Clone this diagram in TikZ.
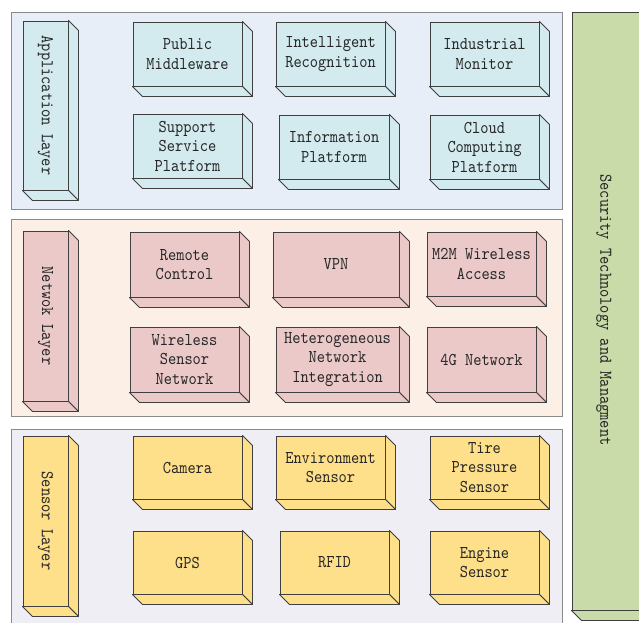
\documentclass[tikz,border=0pt]{standalone}
\usepackage{fontspec}
\setmonofont[FakeStretch=0.87]{lmmono10-regular.otf}
\usepackage{graphicx}
\definecolor{appbg}{HTML}{E8EEF7}
\definecolor{netbg}{HTML}{FCEFE5}
\definecolor{senbg}{HTML}{EFEEF5}
\definecolor{appbox}{HTML}{D3EBEF}
\definecolor{netbox}{HTML}{EBC9C9}
\definecolor{senbox}{HTML}{FFE08A}
\definecolor{secbox}{HTML}{C9DBA8}
\definecolor{edgec}{HTML}{3F3F3F}
\definecolor{txtc}{HTML}{262626}
\definecolor{layeredge}{HTML}{8A8A8A}
\tikzset{
  layerbg/.style={draw=layeredge, line width=0.9pt},
  front/.style={draw=edgec, line width=0.9pt, rectangle, inner sep=0pt, align=center,
    text=txtc, font=\ttfamily\fontsize{18}{19.5}\selectfont},
  face/.style={draw=edgec, line width=0.9pt, line join=round},
}
% \cubebox{name}{x1}{y1}{x2}{y2}{color}{text}
\newcommand{\cubebox}[7]{%
  \node[front, fill=#6, minimum width={(#4-#2)*1pt}, minimum height={(#5-#3)*1pt}]
     (#1) at ({(#2+#4)/2},{(#3+#5)/2}) {#7};
  \draw[face, fill=#6] (#1.north east) -- ++(10,10) -- ([shift={(10,10)}]#1.south east) -- (#1.south east) -- cycle;
  \draw[face, fill=#6] (#1.south west) -- ++(10,10) -- ([shift={(10,10)}]#1.south east) -- (#1.south east) -- cycle;
}
\begin{document}
\begin{tikzpicture}[x=1pt, y=-1pt]
\useasboundingbox (0,0) rectangle (639,622);
\clip (0,0) rectangle (639,622);
\fill[white] (0,0) rectangle (639,622);
% layer backgrounds
\draw[layerbg, fill=appbg] (11,12) rectangle (562,209);
\draw[layerbg, fill=netbg] (11,219) rectangle (562,416);
\draw[layerbg, fill=senbg] (11,429) rectangle (562,640);
% security column
\cubebox{sec}{572}{12}{660}{610}{secbox}{}
\node[text=txtc, font=\ttfamily\fontsize{18}{19.5}\selectfont, rotate=-90] (sectxt) at (604,310) {Security Technology and Managment};
% layer labels
\cubebox{appl}{23}{21}{68}{190}{appbox}{\rotatebox{-90}{Application Layer}}
\cubebox{netl}{23}{231}{68}{401}{netbox}{\rotatebox{-90}{Netwok Layer}}
\cubebox{senl}{23}{436}{68}{606}{senbox}{\rotatebox{-90}{Sensor Layer}}
% application layer
\cubebox{pm}{133}{22}{242}{86}{appbox}{Public\\Middleware}
\cubebox{ir}{276}{22}{385}{86}{appbox}{Intelligent\\Recognition}
\cubebox{im}{430}{22}{539}{86}{appbox}{Industrial\\Monitor}
\cubebox{ssp}{133}{114}{242}{178}{appbox}{Support\\Service\\Platform}
\cubebox{ip}{279}{115}{389}{179}{appbox}{Information\\Platform}
\cubebox{ccp}{430}{115}{539}{179}{appbox}{Cloud\\Computing\\Platform}
% network layer
\cubebox{rc}{130}{232}{239}{297}{netbox}{Remote\\Control}
\cubebox{vpn}{273}{232}{399}{297}{netbox}{VPN}
\cubebox{m2m}{427}{232}{536}{296}{netbox}{M2M Wireless\\Access}
\cubebox{wsn}{130}{327}{239}{392}{netbox}{Wireless\\Sensor\\Network}
\cubebox{hni}{276}{327}{399}{392}{netbox}{Heterogeneous\\Network\\Integration}
\cubebox{g4}{427}{327}{536}{392}{netbox}{4G Network}
% sensor layer
\cubebox{cam}{133}{436}{242}{499}{senbox}{Camera}
\cubebox{env}{276}{436}{385}{499}{senbox}{Environment\\Sensor}
\cubebox{tps}{430}{436}{539}{499}{senbox}{Tire\\Pressure\\Sensor}
\cubebox{gps}{133}{531}{242}{594}{senbox}{GPS}
\cubebox{rfid}{280}{531}{389}{594}{senbox}{RFID}
\cubebox{eng}{430}{531}{539}{594}{senbox}{Engine\\Sensor}
\end{tikzpicture}
\end{document}
